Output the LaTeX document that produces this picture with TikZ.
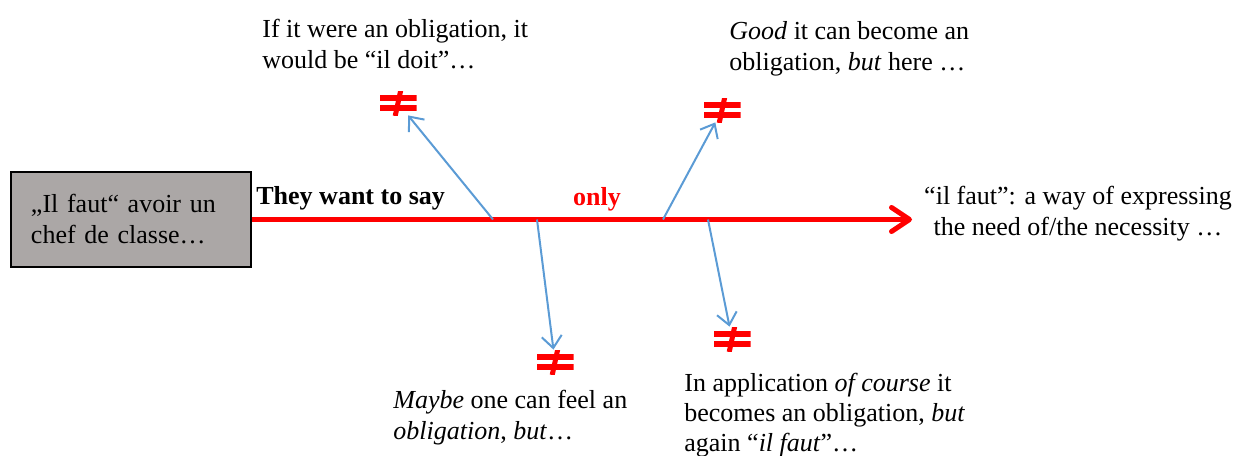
\documentclass[tikz,border=0pt]{standalone}
\usepackage{fontspec}
\setmainfont{Liberation Serif}
\usetikzlibrary{arrows.meta}
\definecolor{boxgray}{HTML}{ABA7A6}
\definecolor{linkblue}{HTML}{5B9BD5}

\begin{document}
\begin{tikzpicture}[
  x=0.5pt, y=-0.5pt,
  font=\fontsize{13}{15.5}\selectfont,
  start/.style={draw, fill=boxgray, line width=0.7pt, align=left, text width=100pt, inner xsep=10pt, minimum height=47.5pt},
  note/.style={align=left, inner sep=0pt, anchor=north west},
  noteq/.style={minimum width=18.5pt, minimum height=12pt, inner sep=0pt, path picture={
    \fill[red] ([shift={(-9.25pt,1.2pt)}]path picture bounding box.center) rectangle ([shift={(9.25pt,4.2pt)}]path picture bounding box.center);
    \fill[red] ([shift={(-9.25pt,-1.2pt)}]path picture bounding box.center) rectangle ([shift={(9.25pt,-4.2pt)}]path picture bounding box.center);
    \draw[red, line width=2.5pt] ([shift={(1.4pt,6.5pt)}]path picture bounding box.center) -- ([shift={(-1.4pt,-6.5pt)}]path picture bounding box.center);
  }},
  mainarrow/.style={-{Straight Barb[length=9pt,width=12pt,round]}, red, line width=2.5pt},
  link/.style={-{Straight Barb[length=6pt,width=10pt]}, linkblue, line width=1pt}
]
\useasboundingbox (0,0) rectangle (1247,455);

\node[start] (faut) at (131,219.5) {„Il faut“ avoir un chef de classe…};
\coordinate (tip) at (912,219.5);
\draw[mainarrow] (faut.east) -- (tip);

\node[anchor=base west, inner sep=0pt, font=\fontsize{13}{15.5}\selectfont\bfseries] (want) at (256,204) {They want to say};
\node[anchor=base, inner sep=0pt, red, font=\fontsize{13}{15.5}\selectfont\bfseries] (only) at (597,205) {only};

\node[noteq] (ne1) at (398,103) {};
\node[noteq] (ne2) at (722,110) {};
\node[noteq] (ne3) at (555,362) {};
\node[noteq] (ne4) at (732,339) {};

\coordinate (b1) at (493,219.5);
\coordinate (b2) at (663,219.5);
\coordinate (b3) at (537,219.5);
\coordinate (b4) at (708,219.5);

\draw[link] (b1) -- (ne1);
\draw[link] (b2) -- (ne2);
\draw[link] (b3) -- (ne3);
\draw[link] (b4) -- (ne4);

\node[note] (doit) at (262,19) {If it were an obligation, it\\would be “il doit”…};
\node[note] (good) at (729,21) {\emph{Good} it can become an\\obligation, \emph{but} here …};
\node[note, align=center, anchor=north] (need) at (1078,186) {“il faut”: a way of expressing\\the need of/the necessity …};
\node[note] (maybe) at (393,390) {\emph{Maybe} one can feel an\\\emph{obligation}, \emph{but}…};
\node[note, font=\fontsize{13}{15}\selectfont] (apply) at (684,373) {In application \emph{of course} it\\becomes an obligation, \emph{but}\\again “\emph{il faut}”…};
\end{tikzpicture}
\end{document}
